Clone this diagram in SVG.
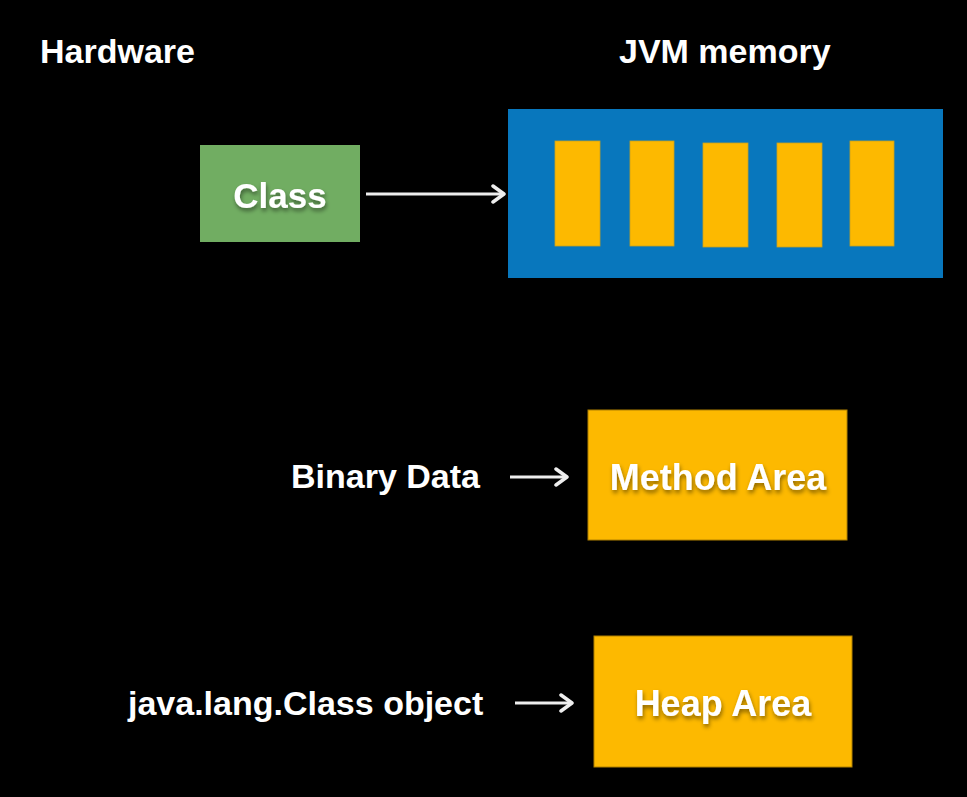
<svg xmlns="http://www.w3.org/2000/svg" width="967" height="797" viewBox="0 0 967 797">
<style>
.t{font-family:"Liberation Sans",Arial,sans-serif;font-weight:bold;fill:#ffffff}
.bar{fill:#fdb900;stroke:#c9a020;stroke-width:0.8}
.area{fill:#fdb900;stroke:#b08000;stroke-width:1}
.conn{stroke:#eeeeee;stroke-width:3;fill:none}
</style>
<defs>
<filter id="sh" x="-20%" y="-20%" width="140%" height="160%">
<feDropShadow dx="1" dy="3" stdDeviation="2" flood-color="#000" flood-opacity="0.45"/>
</filter>
<marker id="ah" viewBox="0 0 16 20" refX="14" refY="10" markerWidth="16" markerHeight="20" markerUnits="userSpaceOnUse" orient="auto">
<path d="M3,2 L14,10 L3,18" fill="none" stroke="#eeeeee" stroke-width="3.5" stroke-linejoin="round" stroke-linecap="round"/>
</marker>
</defs>
<rect x="0" y="0" width="967" height="797" fill="#000000"/>
<g id="label-hardware"><text class="t" x="40" y="63" font-size="34">Hardware</text></g>
<g id="label-jvm"><text class="t" x="619" y="63" font-size="34">JVM memory</text></g>
<g id="node-class">
<rect x="200" y="145" width="160" height="97" fill="#71ad62"/>
<text class="t" x="280" y="208" font-size="35" text-anchor="middle" filter="url(#sh)">Class</text>
</g>
<g id="node-jvm">
<rect x="508" y="109" width="435" height="169" fill="#0877bd"/>
<rect class="bar" x="555" y="141" width="45" height="105"/>
<rect class="bar" x="630" y="141" width="44" height="105"/>
<rect class="bar" x="703" y="143" width="45" height="104"/>
<rect class="bar" x="777" y="143" width="45" height="104"/>
<rect class="bar" x="850" y="141" width="44" height="105"/>
</g>
<g id="node-binary"><text class="t" x="291" y="488" font-size="34">Binary Data</text></g>
<g id="node-method">
<rect class="area" x="588" y="410" width="259" height="130"/>
<text class="t" x="718" y="490" font-size="36" text-anchor="middle" filter="url(#sh)">Method Area</text>
</g>
<g id="node-classobj"><text class="t" x="128" y="715" font-size="34">java.lang.Class object</text></g>
<g id="node-heap">
<rect class="area" x="594" y="636" width="258" height="131"/>
<text class="t" x="723" y="716" font-size="36" text-anchor="middle" filter="url(#sh)">Heap Area</text>
</g>
<g id="connectors">
<line class="conn" x1="366" y1="194" x2="504" y2="194" marker-end="url(#ah)"/>
<line class="conn" x1="510" y1="477" x2="567" y2="477" marker-end="url(#ah)"/>
<line class="conn" x1="515" y1="703" x2="572" y2="703" marker-end="url(#ah)"/>
</g>
</svg>
